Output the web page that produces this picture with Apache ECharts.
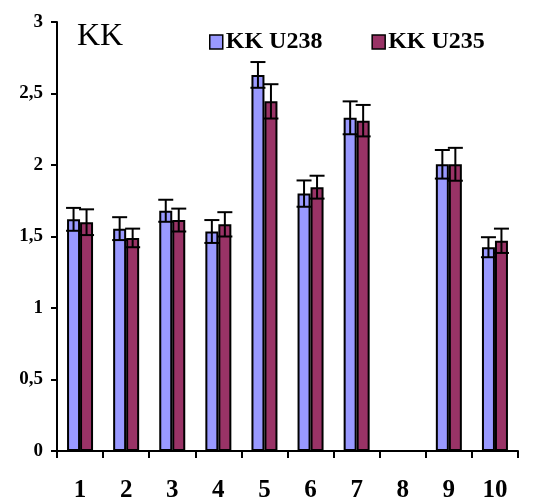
<!DOCTYPE html>
<html>
<head>
<meta charset="utf-8">
<script src="https://cdn.jsdelivr.net/npm/echarts@6/dist/echarts.min.js"></script>
<style>
  html, body { margin: 0; padding: 0; background: #fff; }
  #chart { width: 548px; height: 503px; }
</style>
</head>
<body>
<div id="chart"></div>
<script>
// Sample numbers along the x axis (8 has no measurement)
const categories = ['1', '2', '3', '4', '5', '6', '7', '8', '9', '10'];

// Mean ratios and their uncertainties for each isotope
const u238 = [1.62, 1.555, 1.68, 1.535, 2.63, 1.80, 2.33, null, 2.005, 1.425];
const u238Err = [0.08, 0.08, 0.077, 0.08, 0.09, 0.092, 0.115, null, 0.10, 0.07];
const u235 = [1.60, 1.49, 1.615, 1.585, 2.445, 1.845, 2.31, null, 2.005, 1.47];
const u235Err = [0.09, 0.065, 0.08, 0.085, 0.12, 0.08, 0.11, null, 0.115, 0.085];

const yTicks = [0, 0.5, 1, 1.5, 2, 2.5, 3];

const seriesNames = ['KK U238', 'KK U235'];
const colors = ['#9999FF', '#993366'];
const FONT = '"Liberation Serif", "Times New Roman", serif';
const BAR_WIDTH = 13;

function errorData(values, errs, idx) {
  const out = [];
  values.forEach((v, i) => {
    if (v == null) return;
    out.push([i, v - errs[i], v + errs[i], idx]);
  });
  return out;
}

// Whiskers drawn over the grouped bars; each one sits on its own bar's centre
function renderError(params, api) {
  const i = api.value(0);
  const idx = api.value(3);
  const lowPt = api.coord([i, api.value(1)]);
  const highPt = api.coord([i, api.value(2)]);
  const cx = lowPt[0] + (idx === 0 ? -BAR_WIDTH / 2 : BAR_WIDTH / 2);
  const half = BAR_WIDTH / 2 + 1;
  const style = { stroke: '#000', lineWidth: 2 };
  return {
    type: 'group',
    children: [
      { type: 'line', shape: { x1: cx, y1: highPt[1], x2: cx, y2: lowPt[1] }, style },
      { type: 'line', shape: { x1: cx - half, y1: highPt[1], x2: cx + half, y2: highPt[1] }, style },
      { type: 'line', shape: { x1: cx - half, y1: lowPt[1], x2: cx + half, y2: lowPt[1] }, style }
    ]
  };
}

const chart = echarts.init(document.getElementById('chart'), null, { renderer: 'canvas' });

chart.setOption({
  animation: false,
  backgroundColor: '#fff',
  title: {
    text: 'KK',
    left: 72,
    top: 16,
    textStyle: { fontFamily: FONT, fontSize: 32, fontWeight: 'normal', color: '#000' }
  },
  legend: {
    data: seriesNames,
    left: 204,
    top: 25,
    itemWidth: 13,
    itemHeight: 14,
    itemGap: 49,
    icon: 'rect',
    itemStyle: { borderColor: '#000', borderWidth: 1.5 },
    textStyle: { fontFamily: FONT, fontSize: 24, fontWeight: 'bold', color: '#000', padding: [0, 0, 0, -2] }
  },
  grid: { left: 57, right: 30, top: 22, bottom: 47, containLabel: false },
  xAxis: {
    type: 'category',
    data: categories,
    boundaryGap: true,
    axisLine: { lineStyle: { color: '#000', width: 2 } },
    axisTick: { show: true, interval: 0, length: 7, lineStyle: { color: '#000', width: 2 } },
    axisLabel: {
      interval: 0, margin: 27, color: '#000',
      fontFamily: FONT, fontSize: 25, fontWeight: 'bold'
    },
    splitLine: { show: false }
  },
  yAxis: {
    type: 'value',
    min: yTicks[0],
    max: yTicks[yTicks.length - 1],
    interval: 0.5,
    axisLine: { show: true, lineStyle: { color: '#000', width: 2 } },
    axisTick: { show: true, length: 6, lineStyle: { color: '#000', width: 2 } },
    axisLabel: {
      margin: 14, color: '#000',
      fontFamily: FONT, fontSize: 19, fontWeight: 'bold',
      formatter: v => String(v).replace('.', ',')
    },
    splitLine: { show: false }
  },
  series: [
    {
      name: seriesNames[0],
      type: 'bar',
      data: u238.map(v => (v == null ? '-' : v)),
      barWidth: BAR_WIDTH,
      barGap: '0%',
      itemStyle: { color: colors[0], borderColor: '#000', borderWidth: 2 },
      z: 2
    },
    {
      name: seriesNames[1],
      type: 'bar',
      data: u235.map(v => (v == null ? '-' : v)),
      barWidth: BAR_WIDTH,
      barGap: '0%',
      itemStyle: { color: colors[1], borderColor: '#000', borderWidth: 2 },
      z: 2
    },
    {
      type: 'custom',
      name: 'err238',
      renderItem: renderError,
      data: errorData(u238, u238Err, 0),
      encode: { x: 0, y: [1, 2] },
      z: 5,
      silent: true
    },
    {
      type: 'custom',
      name: 'err235',
      renderItem: renderError,
      data: errorData(u235, u235Err, 1),
      encode: { x: 0, y: [1, 2] },
      z: 5,
      silent: true
    }
  ]
});
</script>
</body>
</html>
